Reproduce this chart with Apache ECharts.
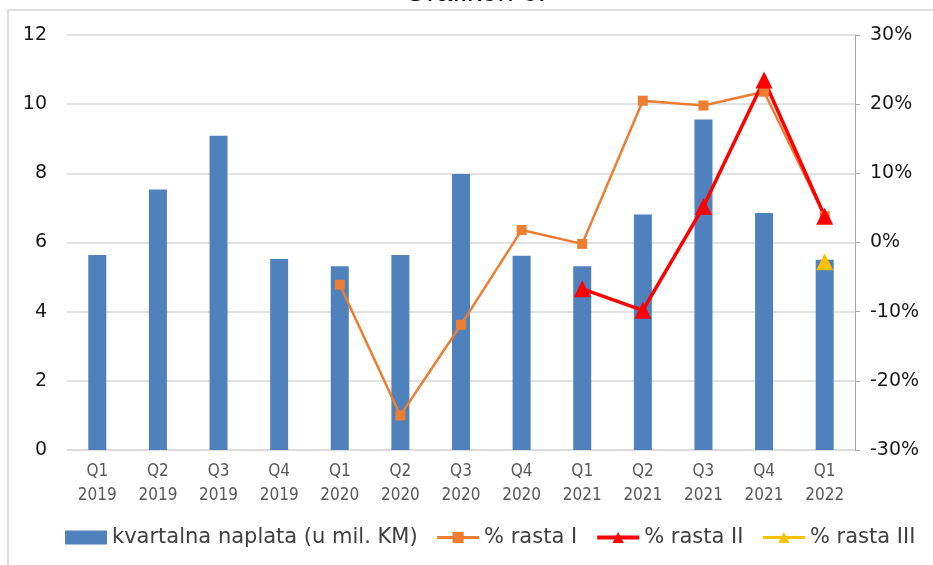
<!DOCTYPE html>
<html>
<head>
<meta charset="utf-8">
<script src="https://cdn.jsdelivr.net/npm/echarts@6/dist/echarts.min.js"></script>
<style>
html,body{margin:0;padding:0;background:#fff;}
#chart{width:933px;height:565px;}
</style>
</head>
<body>
<div id="chart"></div>
<script>
var categories = ['Q1\n2019','Q2\n2019','Q3\n2019','Q4\n2019','Q1\n2020','Q2\n2020','Q3\n2020','Q4\n2020','Q1\n2021','Q2\n2021','Q3\n2021','Q4\n2021','Q1\n2022'];
var naplata = [5.64, 7.53, 9.09, 5.52, 5.31, 5.64, 7.98, 5.62, 5.31, 6.81, 9.56, 6.85, 5.50];
var rastaI = [null, null, null, null, -6.1, -25.0, -11.9, 1.8, -0.2, 20.5, 19.8, 21.8, 3.8];
var rastaII = [null, null, null, null, null, null, null, null, -6.7, -9.8, 5.2, 23.5, 3.8];
var rastaIII = [null, null, null, null, null, null, null, null, null, null, null, null, -2.8];
var leftTicks = {min: 0, max: 12, interval: 2};
var rightTicks = {min: -30, max: 30, interval: 10};
var seriesNames = ['kvartalna naplata (u mil. KM)', '% rasta I', '% rasta II', '% rasta III'];

var chart = echarts.init(document.getElementById('chart'));
var labelFont = 'Tahoma, "DejaVu Sans", sans-serif';
var option = {
  backgroundColor: '#fff',
  animation: false,
  graphic: [
    {type: 'polyline', shape: {points: [[8, 565], [8, 10], [933, 10]]}, style: {stroke: '#d4d4d4', lineWidth: 1.5, fill: null}},
    {type: 'text', x: 475, y: 7, style: {text: 'Grafikon 6.', fill: '#000', font: '29px "Liberation Sans", Arial, sans-serif', textAlign: 'center', textVerticalAlign: 'bottom'}}
  ],
  grid: {left: 67, right: 78, top: 35, bottom: 115, containLabel: false},
  legend: {
    data: [
      {name: seriesNames[0], icon: 'rect'},
      {name: seriesNames[1], lineStyle: {width: 3}},
      {name: seriesNames[2], lineStyle: {width: 4}},
      {name: seriesNames[3], lineStyle: {width: 3}}
    ],
    left: 60, top: 522,
    itemWidth: 42, itemHeight: 14, itemGap: 18,
    lineStyle: {width: 3},
    textStyle: {fontSize: 21, color: '#404040', fontFamily: '"DejaVu Sans", sans-serif'}
  },
  xAxis: {
    type: 'category', data: categories,
    axisLine: {show: true, lineStyle: {color: '#d9d9d9', width: 1.5}},
    axisTick: {show: false},
    axisLabel: {interval: 0, margin: 10, fontSize: 17, lineHeight: 24, color: '#595959', fontFamily: '"Liberation Sans Narrow", "DejaVu Sans Condensed", sans-serif'}
  },
  yAxis: [
    {
      type: 'value', min: leftTicks.min, max: leftTicks.max, interval: leftTicks.interval,
      axisLine: {show: false}, axisTick: {show: false},
      splitLine: {lineStyle: {color: '#d9d9d9', width: 1.5}},
      axisLabel: {margin: 20, fontSize: 19, color: '#1a1a1a', fontFamily: labelFont}
    },
    {
      type: 'value', position: 'right', min: rightTicks.min, max: rightTicks.max, interval: rightTicks.interval,
      axisLine: {show: true, lineStyle: {color: '#a6a6a6', width: 1}},
      axisTick: {show: true, length: 5, lineStyle: {color: '#a6a6a6'}},
      splitLine: {show: false},
      axisLabel: {margin: 15, fontSize: 19, color: '#1a1a1a', fontFamily: labelFont, formatter: '{value}%'}
    }
  ],
  series: [
    {name: seriesNames[0], type: 'bar', data: naplata, barWidth: 18, itemStyle: {color: '#4F81BD'}, yAxisIndex: 0},
    {name: seriesNames[1], type: 'line', data: rastaI, yAxisIndex: 1, connectNulls: false,
     symbol: 'rect', symbolSize: 10, lineStyle: {color: '#ED7D31', width: 2.5}, itemStyle: {color: '#ED7D31'}},
    {name: seriesNames[2], type: 'line', data: rastaII, yAxisIndex: 1,
     symbol: 'triangle', symbolSize: 17, lineStyle: {color: '#FF0000', width: 3.5}, itemStyle: {color: '#FF0000'}},
    {name: seriesNames[3], type: 'line', data: rastaIII, yAxisIndex: 1,
     symbol: 'triangle', symbolSize: 17, lineStyle: {color: '#FFC000', width: 3}, itemStyle: {color: '#FFC000'}}
  ]
};
chart.setOption(option);
</script>
</body>
</html>
